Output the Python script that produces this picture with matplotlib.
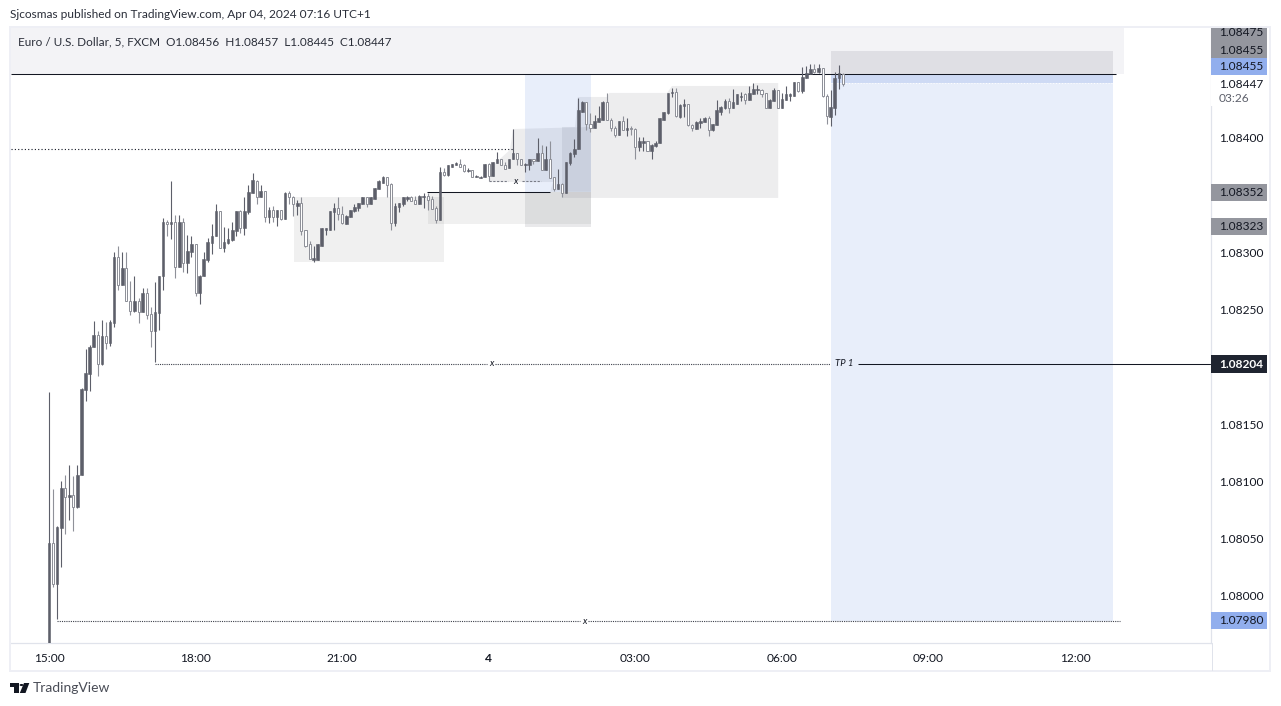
import numpy as np
import matplotlib
matplotlib.use("Agg")
import matplotlib.pyplot as plt
from matplotlib.patches import Rectangle, Polygon, Circle

# candles, in points above 1.08000, one bar every 5 minutes from 15:00
opens = [-47,46,10,59,94,86,88,78,106,180,194,217,228,203,227,221,238,296,272,286,
         258,249,258,248,265,246,231,247,279,327,325,327,287,327,291,300,307,265,279,293,
         308,314,336,304,308,311,319,336,321,335,352,362,348,354,331,337,331,337,329,352,
         348,341,343,320,307,293,293,306,320,320,335,339,334,325,331,336,339,342,348,342,
         347,355,361,366,360,326,340,342,347,348,346,342,348,349,347,339,328,370,368,375,
         376,377,376,371,372,366,365,366,377,367,378,382,376,374,382,387,382,376,376,382,
         380,387,372,382,366,355,360,352,378,386,390,423,431,412,409,414,416,431,416,409,
         403,415,407,409,408,392,396,397,389,393,396,416,422,439,440,418,428,430,411,408,
         413,414,417,407,411,423,426,432,426,430,436,438,433,438,442,442,439,426,432,442,
         426,433,437,437,449,441,452,456,460,458,461,437,418,426,452,456]
closes = [46,10,60,94,86,88,78,106,181,195,217,228,203,227,221,239,296,272,286,258,
          249,258,248,265,245,231,248,279,327,325,327,287,327,291,301,307,265,279,294,309,
          314,336,304,309,312,320,336,321,336,353,363,348,354,331,337,331,337,329,352,348,
          342,343,319,306,294,295,307,321,321,336,339,334,326,332,337,340,343,348,342,348,
          356,362,366,359,326,341,343,348,348,345,342,349,349,346,338,328,370,368,376,377,
          378,375,371,372,366,367,366,377,367,379,382,376,373,382,387,382,376,377,382,380,
          387,372,382,365,355,360,352,379,387,390,424,431,412,409,415,417,431,416,409,403,
          415,407,409,408,392,397,397,389,394,396,417,423,439,440,419,429,430,411,409,414,
          415,417,407,412,424,427,432,426,431,438,437,433,439,443,443,438,426,433,442,426,
          434,438,438,449,441,453,457,460,458,461,437,419,427,452,457,447]
highs = [178,93,61,100,106,114,105,114,182,216,219,240,231,241,239,241,300,306,300,300,
         275,279,260,269,269,252,274,279,330,328,362,333,333,330,315,314,307,280,300,313,
         325,342,336,322,321,327,336,337,348,359,369,363,359,354,340,341,337,337,353,354,
         349,346,348,320,310,306,307,321,321,336,343,348,341,333,337,342,343,348,348,348,
         356,363,367,366,361,343,343,348,349,349,349,350,352,352,349,341,375,374,376,377,
         379,382,377,374,372,368,367,377,378,379,388,382,379,382,408,387,382,378,382,382,
         400,394,393,397,366,373,361,379,388,399,435,432,431,422,420,428,432,439,417,410,
         415,419,417,410,409,401,401,397,395,397,417,423,439,444,444,430,434,430,412,415,
         417,418,419,412,433,428,434,435,443,438,440,439,445,448,446,443,439,434,444,442,
         439,445,439,449,449,462,463,465,465,465,461,438,442,458,464,457]
lows = [-60,8,-20,25,54,66,57,77,106,170,179,217,192,202,216,218,235,267,272,258,
        245,248,238,248,242,217,204,232,267,314,312,278,287,283,282,296,262,255,279,292,
        299,314,304,300,307,310,314,317,315,334,352,342,348,327,326,327,323,328,329,342,
        332,333,315,305,294,292,293,306,315,320,320,328,325,325,331,335,336,342,340,342,
        347,355,361,348,320,323,335,341,345,345,342,342,339,337,338,326,328,367,367,375,
        376,375,370,370,366,366,365,366,362,367,378,376,373,374,382,376,376,370,372,377,
        380,372,372,365,354,355,348,352,376,383,390,423,407,405,409,414,416,416,406,401,
        403,407,402,403,382,389,389,389,382,392,396,416,421,436,418,417,418,410,406,408,
        409,414,402,406,411,420,425,422,426,430,432,430,433,438,438,436,426,426,432,426,
        426,433,432,437,440,439,452,456,457,457,436,412,410,420,443,445]

price_ticks = [1.08, 1.0805, 1.081, 1.0815, 1.0825, 1.083, 1.084]
time_ticks = [0, 36, 72, 108, 144, 180, 216, 252]
time_labels = ["15:00", "18:00", "21:00", "4", "03:00", "06:00", "09:00", "12:00"]

W, H = 1281, 706
DARK = "#5d5f6a"
LIGHT = "#8f9199"
INK = "#131722"
FONT = "Lato"
plt.rcParams["font.family"] = FONT


def pr(pts):
    return 1.08 + np.asarray(pts, dtype=float) / 1e5


def fig_rect(x0, y0, x1, y1, color, z=5):
    fig.add_artist(Rectangle((x0 / W, 1 - y1 / H), (x1 - x0) / W, (y1 - y0) / H,
                             transform=fig.transFigure, facecolor=color,
                             edgecolor="none", zorder=z))


def fig_text(x, y, s, **kw):
    kw.setdefault("color", INK)
    kw.setdefault("fontsize", 8.6)
    kw.setdefault("va", "center")
    fig.text(x / W, 1 - y / H, s, zorder=7, **kw)


fig = plt.figure(figsize=(W / 100, H / 100), dpi=100)
ax = fig.add_axes([11 / W, 1 - 643 / H, 1200 / W, 616 / H])
ax.set_xlim(-9.33, 285.4)
ax.set_ylim(1.079589, 1.084969)

# header strip behind the symbol line
ax.add_patch(Rectangle((-9.33, 1.08456), 273.4, 1.084969 - 1.08456,
                       facecolor="#f3f3f6", edgecolor="none", zorder=0))

# zones
grey = dict(facecolor="#808080", alpha=0.115, edgecolor="none", zorder=1)
ax.add_patch(Rectangle((60.2, pr(292)), 36.8, pr(348) - pr(292), **grey))
ax.add_patch(Rectangle((93.1, pr(325)), 40.0, pr(353) - pr(325), **grey))

slate = dict(facecolor="#787b86", alpha=0.135, edgecolor="none", zorder=1)
zone_a = [(108.1, 361.5), (109.3, 377), (113.2, 389.5), (114, 407.8), (133.1, 409.6),
          (133.1, 353), (123.1, 353), (123.8, 361.5)]
zone_b = [(126, 347.6), (126, 409.6), (129.2, 409.6), (129.9, 435.8), (137.1, 435.8),
          (137.6, 439.3), (151.8, 439.3), (153, 445.4), (172.7, 445.4), (173.4, 448),
          (179.1, 448), (179.1, 347.6)]
ax.add_patch(Polygon([(b, pr(v)) for b, v in zone_a], **slate))
ax.add_patch(Polygon([(b, pr(v)) for b, v in zone_b], **slate))

blue = dict(facecolor="#3d6fd6", edgecolor="none", zorder=1)
loss = dict(facecolor="#787b86", alpha=0.16, edgecolor="none", zorder=1)
# first position
ax.add_patch(Rectangle((116.9, pr(353)), 16.2, pr(456) - pr(353), alpha=0.115, **blue))
ax.add_patch(Rectangle((116.9, pr(322)), 16.2, pr(353) - pr(322), **loss))
# second position
ax.add_patch(Rectangle((192.1, pr(-22)), 69.3, pr(448) - pr(-22), alpha=0.115, **blue))
ax.add_patch(Rectangle((192.1, pr(448)), 69.3, pr(456) - pr(448), alpha=0.25, **blue))
ax.add_patch(Rectangle((192.1, pr(456)), 69.3, pr(476) - pr(456), **loss))
ax.plot([192.1, 261.4], [pr(448), pr(448)], color="white", lw=0.7, ls=(0, (1, 2)), zorder=1.5)

# level lines
ax.hlines(1.08456, -9.33, 262.1, color=INK, lw=0.75, zorder=2)
ax.hlines(1.083905, -9.33, 114, color=INK, lw=0.8, ls=(0, (1, 2)), zorder=2)
ax.hlines(1.08353, 92.9, 123.1, color=INK, lw=0.75, zorder=2)
ax.hlines(1.08362, 108.1, 112.7, color="#787b86", lw=0.8, ls=(0, (2, 1.4)), zorder=2)
ax.hlines(1.08362, 116.2, 120.9, color="#787b86", lw=0.8, ls=(0, (2, 1.4)), zorder=2)
ax.hlines(1.082027, 26, 107.6, color="#3d414c", lw=0.8, ls=(0, (1, 1)), zorder=2)
ax.hlines(1.082027, 109.6, 191.8, color="#3d414c", lw=0.8, ls=(0, (1, 1)), zorder=2)
ax.hlines(1.082027, 198.7, 285.4, color=INK, lw=0.75, zorder=2)
ax.hlines(1.07978, 2, 130.4, color="#3d414c", lw=0.8, ls=(0, (1, 1)), zorder=2)
ax.hlines(1.07978, 132.4, 263, color="#3d414c", lw=0.8, ls=(0, (1, 1)), zorder=2)

for b, v, s in [(114.5, 1.08362, "x"), (108.6, 1.082027, "x"), (131.4, 1.07978, "x")]:
    ax.text(b, v, s, fontsize=6.8, style="italic", color=INK, ha="center", va="center", zorder=3)
ax.text(195.2, 1.082027, "TP 1", fontsize=6.8, style="italic", color=INK,
        ha="center", va="center", zorder=3)

# candles
bars = np.arange(len(opens))
o, c, hi, lo = pr(opens), pr(closes), pr(highs), pr(lows)
up = c > o
ax.vlines(bars[up], lo[up], hi[up], color=DARK, lw=0.8, zorder=4)
ax.vlines(bars[~up], lo[~up], hi[~up], color=LIGHT, lw=0.8, zorder=4)
ax.bar(bars[up], (c - o)[up], bottom=o[up], width=0.66, facecolor=DARK,
       edgecolor=DARK, linewidth=0.4, zorder=5)
ax.bar(bars[~up], (o - c)[~up], bottom=c[~up], width=0.52, facecolor="white",
       edgecolor=LIGHT, linewidth=0.72, zorder=5)

# axes
for side in ["top", "left"]:
    ax.spines[side].set_visible(False)
ax.spines["bottom"].set_color("#e0e3eb")
ax.spines["right"].set_color("#e0e3eb")
ax.spines["bottom"].set_linewidth(0.9)
ax.spines["right"].set_linewidth(0.9)
ax.yaxis.tick_right()
ax.set_yticks(price_ticks)
ax.set_yticklabels([f"{v:.5f}" for v in price_ticks])
ax.set_xticks(time_ticks)
ax.set_xticklabels(time_labels)
ax.tick_params(axis="both", length=0, labelsize=8.6, labelcolor=INK)
ax.tick_params(axis="y", pad=6)
ax.tick_params(axis="x", pad=7)
ax.get_xticklabels()[3].set_fontweight("bold")

# chart frame
frame = "#eeeff5"
fig_rect(9, 27, 11, 672, frame, z=2)
fig_rect(9, 670, 1271, 672, frame, z=2)
fig_rect(1269, 27, 1271, 672, frame, z=2)
fig_rect(9, 26, 1271, 28, frame, z=2)
fig_rect(1211.6, 643, 1212.6, 671, "#e0e3eb", z=2)

# price tags
fig_rect(1211, 28, 1267, 57.5, "#94969e")
fig_rect(1211, 58, 1267, 74.5, "#91aeed")
fig_rect(1211, 75, 1268, 106, "white")
fig_rect(1211, 184, 1267, 201, "#94969e")
fig_rect(1211, 218, 1267, 235, "#94969e")
fig_rect(1211, 355, 1267, 372.5, "#1f2430")
fig_rect(1211, 612, 1267, 629, "#91aeed")
for y, s in [(33, "1.08475"), (50, "1.08455"), (66, "1.08455"), (84, "1.08447"),
             (192.5, "1.08352"), (226.5, "1.08323"), (621, "1.07980")]:
    fig_text(1219, y, s)
fig_text(1219, 364, "1.08204", color="white", fontweight="bold")
fig_text(1219, 98, "03:26", color="#5d606b")

# titles
fig_text(10, 14, "Sjcosmas published on TradingView.com, Apr 04, 2024 07:16 UTC+1",
         fontsize=8.6, color="#2a2e39")
fig_text(18, 41.5, "Euro / U.S. Dollar, 5, FXCM  O1.08456  H1.08457  L1.08445  C1.08447",
         fontsize=8.5, color="#2a2e39")

# logo
fig_rect(10, 683, 18.5, 686.5, INK)
fig_rect(14, 683, 18.5, 693, INK)
fig.add_artist(Circle((21.5 / W, 1 - 685 / H), 1.9 / W, transform=fig.transFigure,
                      facecolor=INK, edgecolor="none", zorder=5))
fig.add_artist(Polygon([(24 / W, 1 - 683 / H), (29.3 / W, 1 - 683 / H),
                        (25.5 / W, 1 - 693 / H), (19.8 / W, 1 - 693 / H)],
                       transform=fig.transFigure, facecolor=INK, edgecolor="none", zorder=5))
fig_text(33, 688, "TradingView", fontsize=10, color="#4a4d57")

fig.savefig("out.png", dpi=100)
